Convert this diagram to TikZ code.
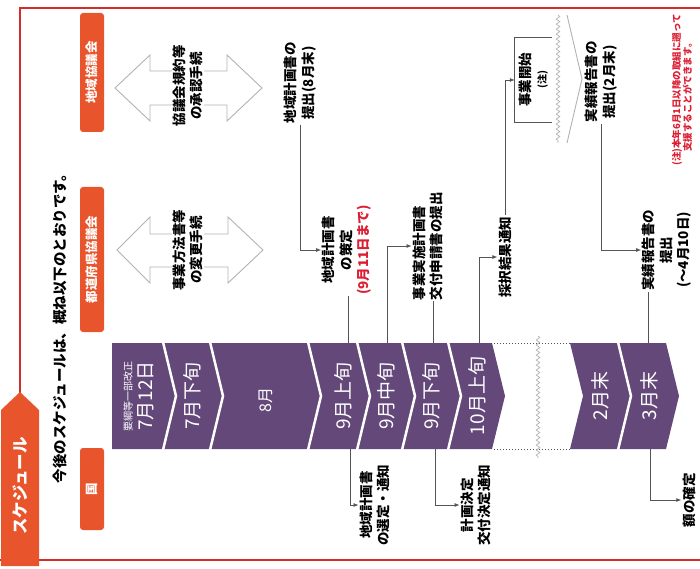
\documentclass[tikz,border=0pt]{standalone}
\usepackage{fontspec}
\setmainfont{Noto Sans CJK JP}
\usetikzlibrary{arrows.meta,decorations.pathmorphing}
\definecolor{tabc}{RGB}{232,85,45}
\definecolor{barc}{RGB}{100,72,122}
\definecolor{framec}{RGB}{215,45,40}
\definecolor{linec}{RGB}{85,85,85}
\definecolor{notec}{RGB}{220,30,50}
\begin{document}
\begin{tikzpicture}[x=1pt,y=-1pt,
  vt/.style={rotate=90, align=center, inner sep=1pt},
  lbl/.style={vt, font=\fontsize{13.5}{17.5}\selectfont\bfseries},
  tabtxt/.style={vt, text=white, font=\fontsize{12.5}{14}\selectfont\bfseries},
  blk/.style={vt, text=white, font=\fontsize{19}{21}\selectfont},
  conn/.style={draw=linec, line width=0.8pt, -{Latex[length=5pt,width=4pt]}},
  plain/.style={draw=linec, line width=0.8pt},
  hollow/.style={draw=gray!60, line width=0.9pt},
  wavy/.style={draw=gray!60, line width=0.7pt, decorate, decoration={snake, amplitude=1.8pt, segment length=5pt}},
]
\useasboundingbox (0,0) rectangle (700,569);
% frame
\draw[framec, line width=1.2pt] (20,395) -- (20,8) -- (700,8);
\draw[framec, line width=1.2pt] (0,560) -- (700,560);
% title tab
\fill[tabc] (1,566) -- (1,410) -- (20,392) -- (39,410) -- (39,566) -- cycle;
\node[vt, text=white, font=\fontsize{16.5}{18}\selectfont\bfseries] (title) at (20,486) {スケジュール};
\node[vt, font=\fontsize{14.5}{17}\selectfont\bfseries] (intro) at (60,325) {今後のスケジュールは、概ね以下のとおりです。};
% row tabs
\fill[tabc, rounded corners=3pt] (80,13) rectangle (104,132);
\node[tabtxt] (tabA) at (92,72.5) {地域協議会};
\fill[tabc, rounded corners=3pt] (80,187) rectangle (104,332);
\node[tabtxt] (tabB) at (92,259.5) {都道府県協議会};
\fill[tabc, rounded corners=3pt] (80,448) rectangle (104,530);
\node[tabtxt] (tabC) at (92,489) {国};
% hollow double arrows
\draw[hollow] (115,88) -- (150,55) -- (150,71) -- (227,71) -- (227,55) -- (262,88) -- (227,121) -- (227,105) -- (150,105) -- (150,121) -- cycle;
\draw[hollow] (117,250) -- (150,217) -- (150,234) -- (228,234) -- (228,217) -- (263,250) -- (228,283) -- (228,267) -- (150,267) -- (150,283) -- cycle;
\node[lbl, fill=white] (h1) at (188,86) {協議会規約等\\の承認手続};
\node[lbl, fill=white] (h2) at (188,250) {事業方法書等\\の変更手続};
% timeline bar
\fill[barc] (112,343) -- (163,343) -- (176,396) -- (163,449) -- (112,449) -- cycle;
\foreach \a/\b in {163/210, 210/308, 308/357, 357/402, 402/448, 448/492, 570/618, 618/666} {
  \fill[barc] (\a,343) -- (\b,343) -- (\b+13,396) -- (\b,449) -- (\a,449) -- (\a+13,396) -- cycle;
}
\foreach \a in {163, 210, 308, 357, 402, 448, 618} {
  \draw[white, line width=2.5pt] (\a,342) -- (\a+13,396) -- (\a,450);
}
\draw[linec, dotted, line width=1pt] (494,343) -- (570,343);
\draw[linec, dotted, line width=1pt] (494,449) -- (570,449);
\draw[wavy] (538,336) -- (538,458);
\node[blk] (t1) at (139,396) {{\fontsize{10}{12}\selectfont 要綱等一部改正}\\7月12日};
\node[blk] (t2) at (192,396) {7月下旬};
\node[blk, font=\fontsize{16}{18}\selectfont] (t3) at (266,400) {8月};
\node[blk] (t4) at (343,396) {9月上旬};
\node[blk] (t5) at (386,396) {9月中旬};
\node[blk] (t6) at (431,396) {9月下旬};
\node[blk] (t7) at (477,396) {10月上旬};
\node[blk] (t8) at (600,396) {2月末};
\node[blk] (t9) at (649,396) {3月末};
\coordinate (b4t) at (348,343);
\coordinate (b4b) at (350,449);
\coordinate (b5t) at (387,343);
\coordinate (b6t) at (433,343);
\coordinate (b6b) at (435,449);
\coordinate (b7t) at (479,343);
\coordinate (b9t) at (648,343);
\coordinate (b9b) at (650,449);
% upper labels
\node[lbl] (p1) at (300,83) {地域計画書の\\提出(8月末)};
\node[lbl] (s1) at (347,250) {地域計画書\\の策定\\\textcolor{notec}{(9月11日まで)}};
\node[lbl, align=left] (e1) at (428,246) {事業実施計画書\\交付申請書の提出};
\node[lbl] (r1) at (505,257) {採択結果通知};
\node[lbl, font=\fontsize{13.5}{15}\selectfont\bfseries, minimum width=84pt, minimum height=37pt] (k1) at (533.5,80) {事業開始\\{\fontsize{10}{12}\selectfont (注)}};
\draw[plain] (k1.south east) -- (k1.north east) -- (k1.north west) -- (k1.south west);
\draw[wavy] (558,15) -- (558,143);
\draw[hollow] (567,15) -- (582,79) -- (567,143);
\node[lbl] (p2) at (601,82) {実績報告書の\\提出(2月末)};
\node[lbl] (q1) at (667,250) {実績報告書の\\提出\\(〜4月10日)};
\node[vt, text=notec, font=\fontsize{9.5}{11}\selectfont\bfseries, align=left, anchor=west] (note) at (682,167) {(注)本年6月1日以降の取組に遡って\\\hspace*{1.5em}支援することができます。};
% lower labels
\node[lbl] (g1) at (375,505) {地域計画書\\の選定・通知};
\node[lbl] (g2) at (476,505) {計画決定\\交付決定通知};
\node[lbl] (g3) at (689,500) {額の確定};
% connectors
\draw[conn] (p1.west) |- (s1.north);
\draw[plain] (b4t) -- (b4t |- s1.west);
\draw[conn] (b5t) |- (e1.north);
\draw[plain] (b6t) -- (b6t |- e1.west);
\draw[conn] (b7t) |- (r1.north);
\draw[conn] (r1.east) |- (k1.north);
\draw[conn] (p2.west) |- (q1.north);
\draw[plain] (b9t) -- (b9t |- q1.west);
\draw[conn] (b4b) |- (g1.north);
\draw[conn] (b6b) |- (g2.north);
\draw[conn] (b9b) |- (g3.north);
\end{tikzpicture}
\end{document}
